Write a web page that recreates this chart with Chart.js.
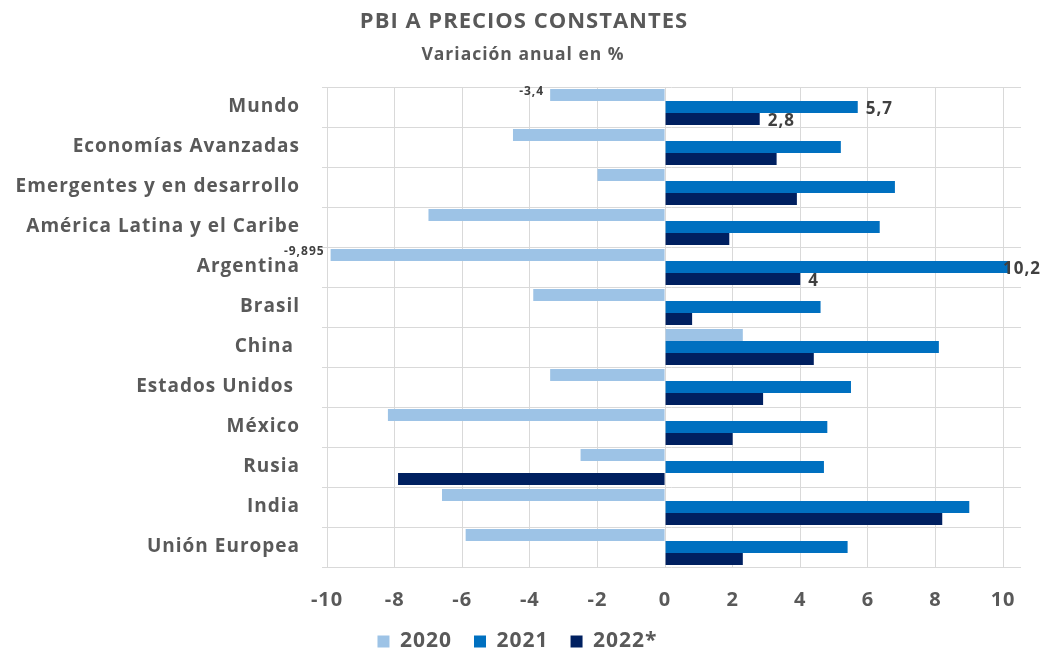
<!DOCTYPE html>
<html>
<head>
<meta charset="utf-8">
<script src="https://cdn.jsdelivr.net/npm/chart.js@4.4.0/dist/chart.umd.min.js"></script>
<style>
html,body{margin:0;padding:0;background:#fff;}
#wrap{width:1041px;height:652px;position:relative;}
</style>
</head>
<body>
<div id="wrap"><canvas id="c" width="1041" height="652"></canvas></div>
<script>
const titleText = "PBI A PRECIOS CONSTANTES";
const subtitleText = "Variación anual en %";
const categories = ["Mundo","Economías Avanzadas","Emergentes y en desarrollo","América Latina y el Caribe","Argentina","Brasil","China ","Estados Unidos ","México","Rusia","India","Unión Europea"];
const seriesNames = ["2020","2021","2022*"];
const v2020 = [-3.4,-4.5,-2.0,-7.0,-9.895,-3.9,2.3,-3.4,-8.2,-2.5,-6.6,-5.9];
const v2021 = [5.7,5.2,6.8,6.35,10.2,4.6,8.1,5.5,4.8,4.7,9.0,5.4];
const v2022 = [2.8,3.3,3.9,1.9,4.0,0.8,4.4,2.9,2.0,-7.9,8.2,2.3];
const lbl2020 = ["-3,4","","","","-9,895","","","","","","",""];
const lbl2021 = ["5,7","","","","10,2","","","","","","",""];
const lbl2022 = ["2,8","","","","4","","","","","","",""];
const xTicks = [-10,-8,-6,-4,-2,0,2,4,6,8,10];

const FONT = "'Open Sans', sans-serif";
const GREY = "#595959";

const spacingPlugin = {
  id: 'spacing',
  beforeUpdate(chart) { chart.ctx.letterSpacing = '1px'; },
  beforeDraw(chart) { chart.ctx.letterSpacing = '1px'; }
};

const titlePlugin = {
  id: 'customTitle',
  afterDraw(chart) {
    const ctx = chart.ctx;
    ctx.save();
    ctx.fillStyle = GREY;
    ctx.textAlign = 'center';
    ctx.textBaseline = 'middle';
    ctx.font = "bold 22px " + FONT;
    ctx.fillText(titleText, 524, 22);
    ctx.font = "bold 17.5px " + FONT;
    ctx.fillText(subtitleText, 523, 55);
    ctx.restore();
  }
};

const labelPlugin = {
  id: 'valueLabels',
  afterDatasetsDraw(chart) {
    const ctx = chart.ctx;
    const lbls = [lbl2020, lbl2021, lbl2022];
    ctx.save();
    ctx.fillStyle = "#404040";
    ctx.textBaseline = 'middle';
    chart.data.datasets.forEach((ds, di) => {
      const meta = chart.getDatasetMeta(di);
      meta.data.forEach((bar, i) => {
        const t = lbls[di][i];
        if (!t) return;
        const v = ds.data[i];
        const small = di === 0;
        ctx.font = "bold " + (small ? 12 : 17) + "px " + FONT;
        const tw = ctx.measureText(t).width;
        if (v < 0) {
          ctx.textAlign = 'right';
          ctx.fillText(t, bar.x - 6, bar.y - 3);
        } else {
          ctx.textAlign = 'left';
          let x = bar.x + 8;
          if (x + tw > chart.width) x = chart.width - tw;
          ctx.fillText(t, x, bar.y + 2);
        }
      });
    });
    ctx.restore();
  }
};

new Chart(document.getElementById('c'), {
  type: 'bar',
  data: {
    labels: categories,
    datasets: [
      {label: seriesNames[0], data: v2020, backgroundColor: '#9DC3E6'},
      {label: seriesNames[1], data: v2021, backgroundColor: '#0070C0'},
      {label: seriesNames[2], data: v2022, backgroundColor: '#002060'}
    ]
  },
  options: {
    indexAxis: 'y',
    responsive: false,
    animation: false,
    devicePixelRatio: 1,
    layout: {padding: {top: 87, right: 20, left: 14, bottom: -10}},
    datasets: {bar: {categoryPercentage: 0.9, barPercentage: 1.0}},
    scales: {
      x: {
        min: -10.15,
        max: 10.53,
        afterBuildTicks(scale) { scale.ticks = xTicks.map(v => ({value: v})); },
        afterFit(scale) { scale.height = 42; },
        grid: {color: '#D9D9D9', drawTicks: false, lineWidth: 1},
        border: {display: false},
        ticks: {
          color: GREY,
          padding: 21,
          font: {family: FONT, size: 20, weight: 'bold'},
          callback: (v) => String(v)
        }
      },
      y: {
        afterFit(scale) { scale.width = 308; },
        grid: {color: '#D9D9D9', drawTicks: false, offset: true, lineWidth: 1},
        border: {display: false},
        ticks: {
          color: GREY,
          padding: 22,
          font: {family: FONT, size: 19, weight: 'bold'}
        }
      }
    },
    plugins: {
      legend: {
        position: 'bottom',
        labels: {
          boxWidth: 12, boxHeight: 12, padding: 22,
          color: GREY,
          font: {family: FONT, size: 21, weight: 'bold'}
        }
      },
      tooltip: {enabled: false}
    }
  },
  plugins: [spacingPlugin, titlePlugin, labelPlugin]
});
</script>
</body>
</html>
